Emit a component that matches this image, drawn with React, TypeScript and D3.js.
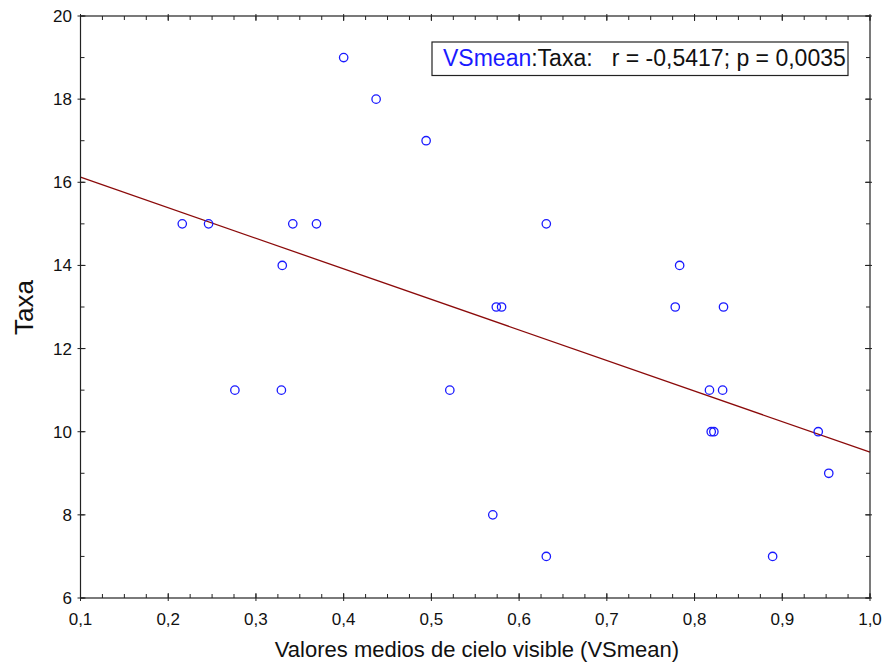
import React from "react";
import * as d3 from "d3";

const vsMean: number[] = [
  0.400, 0.437, 0.494, 0.216, 0.246, 0.342, 0.369, 0.631, 0.330, 0.783,
  0.574, 0.580, 0.778, 0.833, 0.276, 0.329, 0.521, 0.817, 0.832, 0.819,
  0.822, 0.941, 0.953, 0.570, 0.631, 0.889,
];
const taxa: number[] = [
  19, 18, 17, 15, 15, 15, 15, 15, 14, 14,
  13, 13, 13, 13, 11, 11, 11, 11, 11, 10,
  10, 10, 9, 8, 7, 7,
];
const xTicks: number[] = [0.1, 0.2, 0.3, 0.4, 0.5, 0.6, 0.7, 0.8, 0.9, 1.0];
const yTicks: number[] = [6, 8, 10, 12, 14, 16, 18, 20];
const legendVar = "VSmean";
const legendRest = ":Taxa:   r = -0,5417; p = 0,0035";
const xTitle = "Valores medios de cielo visible (VSmean)";
const yTitle = "Taxa";

const W = 885;
const H = 667;
const L = 80.5, R = 870, T = 16, B = 598;
const FONT = "'Liberation Sans', Arial, Helvetica, sans-serif";

export default function App() {
  const x = d3.scaleLinear().domain([0.1, 1.0]).range([L, R]);
  const y = d3.scaleLinear().domain([6, 20]).range([B, T]);

  const mx = d3.mean(vsMean)!;
  const my = d3.mean(taxa)!;
  let sxy = 0, sxx = 0;
  vsMean.forEach((v, i) => {
    sxy += (v - mx) * (taxa[i] - my);
    sxx += (v - mx) * (v - mx);
  });
  const slope = sxy / sxx;
  const icpt = my - slope * mx;
  const line = d3.line<number>().x((d) => x(d)).y((d) => y(icpt + slope * d));

  const xMinor = d3.range(0.1, 1.0001, 0.025);
  const yMinor = d3.range(6, 20.0001, 1);
  const fmt = (v: number) => v.toFixed(1).replace(".", ",");

  return (
    <svg width={W} height={H} style={{ position: "absolute", left: 0, top: 0, background: "#fff" }} fontFamily={FONT}>
      <rect x={0} y={0} width={W} height={H} fill="#fff" />
      <path d={line([0.1, 1.0]) || ""} stroke="#8b0a0a" strokeWidth={1.3} fill="none" />
      {vsMean.map((v, i) => (
        <circle key={i} cx={x(v)} cy={y(taxa[i])} r={4.2} fill="none" stroke="#1a1aff" strokeWidth={1.3} />
      ))}
      <rect x={L} y={T} width={R - L} height={B - T} fill="none" stroke="#222" strokeWidth={1.2} />
      {xMinor.map((v, i) => (
        <g key={"xm" + i}>
          <line x1={x(v)} x2={x(v)} y1={B} y2={B - 4} stroke="#222" />
          <line x1={x(v)} x2={x(v)} y1={T} y2={T + 4} stroke="#222" />
        </g>
      ))}
      {xTicks.map((v, i) => (
        <g key={"xt" + i}>
          <line x1={x(v)} x2={x(v)} y1={B + 3} y2={B - 5} stroke="#222" />
          <line x1={x(v)} x2={x(v)} y1={T - 2} y2={T + 5} stroke="#222" />
          <text x={x(v)} y={625} fontSize={17} textAnchor="middle" fill="#111">{fmt(v)}</text>
        </g>
      ))}
      {yMinor.map((v, i) => (
        <g key={"ym" + i}>
          <line x1={L} x2={L + 4} y1={y(v)} y2={y(v)} stroke="#222" />
          <line x1={R} x2={R - 4} y1={y(v)} y2={y(v)} stroke="#222" />
        </g>
      ))}
      {yTicks.map((v, i) => (
        <g key={"yt" + i}>
          <line x1={L - 3} x2={L + 5} y1={y(v)} y2={y(v)} stroke="#222" />
          <line x1={R + 2} x2={R - 5} y1={y(v)} y2={y(v)} stroke="#222" />
          <text x={72} y={y(v) + 6} fontSize={17} textAnchor="end" fill="#111">{v}</text>
        </g>
      ))}
      <text x={477} y={657} fontSize={22} textAnchor="middle" fill="#111">{xTitle}</text>
      <text transform={`translate(33,307.5) rotate(-90)`} fontSize={26} textAnchor="middle" fill="#111">{yTitle}</text>
      <rect x={432} y={42} width={416} height={33.5} fill="#fff" stroke="#222" strokeWidth={1.2} />
      <text x={443} y={66} fontSize={23} fill="#111" style={{ whiteSpace: "pre" }}>
        <tspan fill="#1a1aff">{legendVar}</tspan>
        <tspan>{legendRest}</tspan>
      </text>
    </svg>
  );
}
